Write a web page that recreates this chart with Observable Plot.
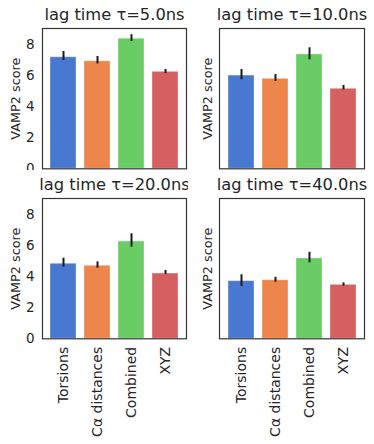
<!DOCTYPE html>
<html>
<head>
<meta charset="utf-8">
<script src="https://cdn.jsdelivr.net/npm/d3@7"></script>
<script src="https://cdn.jsdelivr.net/npm/@observablehq/plot@0.6"></script>
<style>
  html, body { margin: 0; padding: 0; background: white; }
  #wrap { position: relative; width: 374px; height: 444px; overflow: hidden; background: white; }
  #wrap > div { position: absolute; }
  svg { overflow: visible; }
</style>
</head>
<body>
<div id="wrap"></div>
<script>
const categories = ["Torsions", "Cα distances", "Combined", "XYZ"];
const colors = ["#4878d0", "#ee854a", "#6acc64", "#d65f5f"];
const lagTimes = ["5.0", "10.0", "20.0", "40.0"];
const yTicks = [0, 2, 4, 6, 8];

const lag5Mean = [7.18, 6.92, 8.37, 6.24];
const lag5Lo   = [6.97, 6.75, 8.19, 6.13];
const lag5Hi   = [7.55, 7.23, 8.63, 6.39];

const lag10Mean = [6.00, 5.79, 7.36, 5.15];
const lag10Lo   = [5.73, 5.62, 7.01, 5.08];
const lag10Hi   = [6.39, 6.07, 7.79, 5.36];

const lag20Mean = [4.83, 4.70, 6.26, 4.20];
const lag20Lo   = [4.61, 4.54, 5.90, 4.14];
const lag20Hi   = [5.19, 4.95, 6.76, 4.40];

const lag40Mean = [3.71, 3.77, 5.17, 3.47];
const lag40Lo   = [3.37, 3.64, 4.89, 3.38];
const lag40Hi   = [4.12, 3.96, 5.57, 3.60];

const panels = [
  {lag: lagTimes[0], mean: lag5Mean,  lo: lag5Lo,  hi: lag5Hi,  left: 0,   top: 0,   col: 0, row: 0},
  {lag: lagTimes[1], mean: lag10Mean, lo: lag10Lo, hi: lag10Hi, left: 188, top: 0,   col: 1, row: 0},
  {lag: lagTimes[2], mean: lag20Mean, lo: lag20Lo, hi: lag20Hi, left: 0,   top: 170, col: 0, row: 1},
  {lag: lagTimes[3], mean: lag40Mean, lo: lag40Lo, hi: lag40Hi, left: 188, top: 170, col: 1, row: 1}
];

const textColor = "#262626";
const font = "'DejaVu Sans', sans-serif";

const wrap = document.getElementById("wrap");
for (const p of panels) {
  const data = categories.map((c, i) => ({method: c, score: p.mean[i], lo: p.lo[i], hi: p.hi[i]}));
  const isLeft = p.col === 0;
  const isBottom = p.row === 1;
  const width = isLeft ? 188 : 186;
  const height = isBottom ? 274 : 170;
  const marks = [
    Plot.barY(data, {x: "method", y: "score", fill: "method", stroke: "white", strokeOpacity: 0.35, strokeWidth: 1}),
    Plot.ruleX(data, {x: "method", y1: "lo", y2: "hi", stroke: "#1a1a1a", strokeWidth: 2}),
    Plot.frame({stroke: "#333", strokeWidth: 1.2}),
    Plot.text([`lag time τ=${p.lag}ns`], {frameAnchor: "top", dy: -8.5, lineAnchor: "bottom", fontSize: 16.3, fill: textColor}),
    Plot.text(["VAMP2 score"], {frameAnchor: "left", dx: isLeft ? -27 : -12, rotate: -90, lineAnchor: "middle", textAnchor: "middle", fontSize: 12.8, fill: textColor})
  ];
  if (isLeft) {
    marks.push(Plot.axisY(yTicks, {tickSize: 0, tickPadding: 8, fill: textColor, label: null}));
  }
  if (isBottom) {
    marks.push(Plot.text(categories, {x: d => d, frameAnchor: "bottom", dy: 8, rotate: -90, textAnchor: "end", lineAnchor: "middle", fontSize: 14, fill: textColor}));
  }
  const chart = Plot.plot({
    width, height,
    marginLeft: isLeft ? 42 : 31,
    marginRight: isLeft ? 2 : 10,
    marginTop: 28,
    marginBottom: isBottom ? 274 - 168.3 : 170 - 168.3,
    x: {domain: categories, paddingInner: 0.25, paddingOuter: 0.2, axis: null},
    y: {domain: [0, 9.03], axis: null},
    color: {domain: categories, range: colors},
    style: {fontFamily: font, fontSize: "13.5px", background: "white", color: textColor, overflow: "visible"},
    marks
  });
  const holder = document.createElement("div");
  holder.style.left = p.left + "px";
  holder.style.top = p.top + "px";
  holder.appendChild(chart);
  wrap.appendChild(holder);
}
</script>
</body>
</html>
